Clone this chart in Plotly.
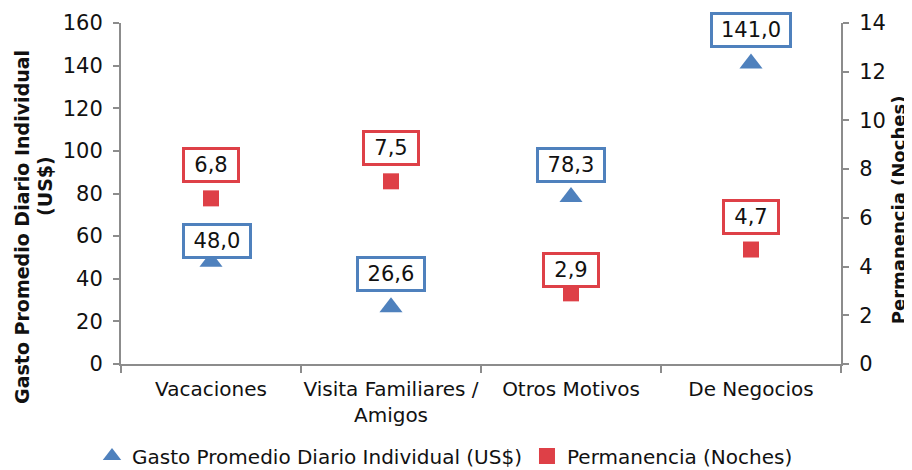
import plotly.graph_objects as go

categorias = ["Vacaciones", "Visita Familiares /<br>Amigos", "Otros Motivos", "De Negocios"]
gasto = [48.0, 26.6, 78.3, 141.0]
permanencia = [6.8, 7.5, 2.9, 4.7]
y1_ticks = [0, 20, 40, 60, 80, 100, 120, 140, 160]
y2_ticks = [0, 2, 4, 6, 8, 10, 12, 14]

BLUE = "#4F81BD"
RED = "#DE4047"
AXIS = "#8C8C8C"
FONT = "Verdana, DejaVu Sans, sans-serif"

def fmt(v):
    return f"{v:.1f}".replace(".", ",")

fig = go.Figure()
fig.add_trace(go.Scatter(
    x=categorias, y=gasto, mode="markers",
    name="Gasto Promedio Diario Individual (US$)",
    marker=dict(symbol="triangle-up", size=20, color=BLUE),
    yaxis="y",
))
fig.add_trace(go.Scatter(
    x=categorias, y=permanencia, mode="markers",
    name="Permanencia (Noches)",
    marker=dict(symbol="square", size=16, color=RED),
    yaxis="y2",
))

# label offsets (px above point); two labels sit closer to their markers
shift_g = [21, 33, 32, 33]
xshift_g = [6, 0, 0, 0]
shift_p = [33, 33, 23, 33]

annotations = []
for cat, v, s, xs in zip(categorias, gasto, shift_g, xshift_g):
    t = fmt(v)
    annotations.append(dict(
        x=cat, y=v, xref="x", yref="y", text=t, showarrow=False,
        yshift=s, xshift=xs, font=dict(family=FONT, size=21, color="#111"),
        bordercolor=BLUE, borderwidth=3, borderpad=3, bgcolor="white",
        width=10 + 12 * len(t), height=24,
    ))
for cat, v, s in zip(categorias, permanencia, shift_p):
    t = fmt(v)
    annotations.append(dict(
        x=cat, y=v, xref="x", yref="y2", text=t, showarrow=False,
        yshift=s, font=dict(family=FONT, size=21, color="#111"),
        bordercolor=RED, borderwidth=3, borderpad=3, bgcolor="white",
        width=10 + 12 * len(t), height=24,
    ))

# axis titles
title_font = dict(family=FONT, size=19, color="#111")
annotations += [
    dict(text="<b>Gasto Promedio Diario Individual</b>", xref="paper", yref="paper",
         x=-0.1375, y=0.402, xanchor="center", yanchor="middle", textangle=-90,
         showarrow=False, font=title_font),
    dict(text="<b>(US$)</b>", xref="paper", yref="paper",
         x=-0.1056, y=0.522, xanchor="center", yanchor="middle", textangle=-90,
         showarrow=False, font=title_font),
    dict(text="<b>Permanencia (Noches)</b>", xref="paper", yref="paper",
         x=1.081, y=0.452, xanchor="center", yanchor="middle", textangle=-90,
         showarrow=False, font=dict(family=FONT, size=18, color="#111")),
]

fig.update_layout(
    width=912, height=470,
    margin=dict(l=113, r=79, t=15, b=114, autoexpand=False),
    paper_bgcolor="white", plot_bgcolor="white",
    font=dict(family=FONT, size=18, color="#111"),
    showlegend=True,
    legend=dict(
        orientation="h", x=0.45, xanchor="center", y=-0.27, yanchor="middle",
        font=dict(family=FONT, size=20, color="#111"),
        itemwidth=30, tracegroupgap=0,
    ),
    xaxis=dict(
        type="category", range=[-0.5, 3.5], tickson="boundaries",
        ticks="outside", ticklen=7, tickcolor=AXIS, tickwidth=2,
        showline=True, linecolor=AXIS, linewidth=2, showgrid=False,
        tickfont=dict(family=FONT, size=20), ticklabelstandoff=6,
        tickangle=0, automargin=False,
    ),
    yaxis=dict(
        range=[0, 160], tickvals=y1_ticks, ticks="outside", ticklen=6,
        tickcolor=AXIS, tickwidth=2, showline=True, linecolor=AXIS, linewidth=2,
        showgrid=False, zeroline=False, tickfont=dict(family=FONT, size=21),
        ticklabelstandoff=6, automargin=False,
    ),
    yaxis2=dict(
        range=[0, 14], tickvals=y2_ticks, overlaying="y", side="right",
        ticks="outside", ticklen=6, tickcolor=AXIS, tickwidth=2,
        showline=True, linecolor=AXIS, linewidth=2, showgrid=False,
        zeroline=False, tickfont=dict(family=FONT, size=21),
        ticklabelstandoff=6, automargin=False,
    ),
    annotations=annotations,
)

fig.write_html("out.html")
